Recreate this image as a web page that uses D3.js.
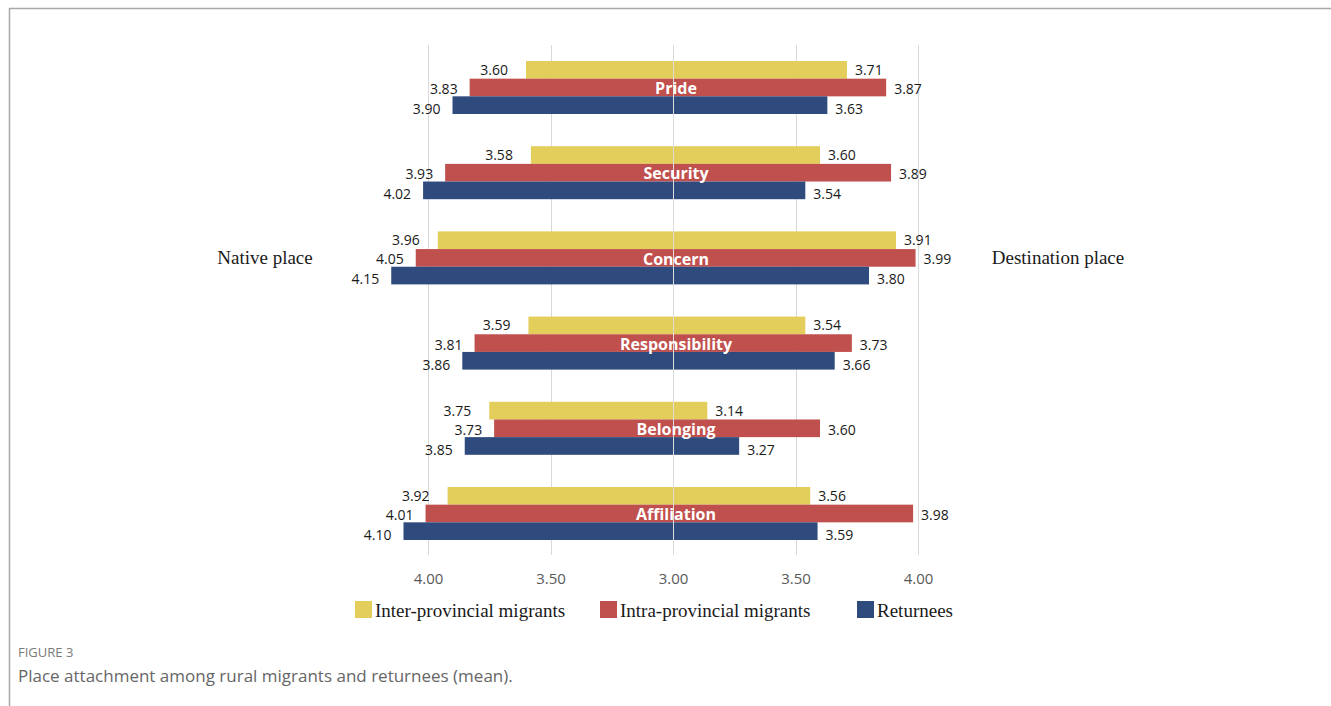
<!DOCTYPE html>
<html>
<head>
<meta charset="utf-8">
<script src="https://cdn.jsdelivr.net/npm/d3@7"></script>
<style>
  html, body { margin: 0; padding: 0; background: #fff; }
  svg { display: block; }
</style>
</head>
<body>
<svg id="chart" width="1331" height="706"></svg>
<script>
// ---- data ----
const categories = ["Pride", "Security", "Concern", "Responsibility", "Belonging", "Affiliation"];
const seriesNames = ["Inter-provincial migrants", "Intra-provincial migrants", "Returnees"];
const seriesColors = ["#E3CD5B", "#C0504D", "#2F4A7C"];
// Native place (left side)
const interNative = [3.60, 3.58, 3.96, 3.59, 3.75, 3.92];
const intraNative = [3.83, 3.93, 4.05, 3.81, 3.73, 4.01];
const retNative   = [3.90, 4.02, 4.15, 3.86, 3.85, 4.10];
// Destination place (right side)
const interDest = [3.71, 3.60, 3.91, 3.54, 3.14, 3.56];
const intraDest = [3.87, 3.89, 3.99, 3.73, 3.60, 3.98];
const retDest   = [3.63, 3.54, 3.80, 3.66, 3.27, 3.59];
const tickValues = [-1, -0.5, 0, 0.5, 1];
const baseline = 3;

const nativeSeries = [interNative, intraNative, retNative];
const destSeries = [interDest, intraDest, retDest];

const svg = d3.select("#chart");

// frame
svg.append("line").attr("x1", 9).attr("x2", 1331).attr("y1", 8.5).attr("y2", 8.5)
  .attr("stroke", "#a9a9a9").attr("stroke-width", 1.5);
svg.append("line").attr("x1", 9.5).attr("x2", 9.5).attr("y1", 8).attr("y2", 706)
  .attr("stroke", "#a9a9a9").attr("stroke-width", 1.5);

// scales
const x = d3.scaleLinear().domain([-1, 1]).range([428, 918]);
const yc = d3.scalePoint().domain(categories).range([87.5, 513.5]);
const ys = d3.scaleBand().domain(seriesNames).range([-26.5, 26.5]);

// gridlines
const gridTop = 45, gridBottom = 555;
svg.append("g").selectAll("line").data(tickValues).join("line")
  .attr("x1", d => Math.round(x(d)) + 0.5).attr("x2", d => Math.round(x(d)) + 0.5)
  .attr("y1", gridTop).attr("y2", gridBottom)
  .attr("stroke", "#d9d9d9").attr("stroke-width", 1);

// bars
const rows = [];
categories.forEach((c, i) => {
  seriesNames.forEach((s, j) => {
    rows.push({cat: c, s, j, side: "L", v: nativeSeries[j][i]});
    rows.push({cat: c, s, j, side: "R", v: destSeries[j][i]});
  });
});

const signed = d => d.side === "L" ? -(d.v - baseline) : (d.v - baseline);

svg.append("g").selectAll("rect").data(rows).join("rect")
  .attr("x", d => Math.min(x(0), x(signed(d))))
  .attr("width", d => Math.abs(x(signed(d)) - x(0)))
  .attr("y", d => yc(d.cat) + ys(d.s))
  .attr("height", ys.bandwidth())
  .attr("fill", d => seriesColors[d.j]);

// centre line on top
svg.append("line")
  .attr("x1", Math.round(x(0)) + 0.5).attr("x2", Math.round(x(0)) + 0.5)
  .attr("y1", gridTop).attr("y2", gridBottom)
  .attr("stroke", "#dcdcdc").attr("stroke-width", 1);

// value labels
const labelDy = [0, 1.5, 4];
const leftGap = [18, 12, 12];
svg.append("g").selectAll("text").data(rows).join("text")
  .attr("x", d => d.side === "L" ? x(signed(d)) - leftGap[d.j] : x(signed(d)) + 8)
  .attr("y", d => yc(d.cat) + ys(d.s) + ys.bandwidth() / 2 + labelDy[d.j])
  .attr("dy", "0.35em")
  .attr("text-anchor", d => d.side === "L" ? "end" : "start")
  .attr("font-family", "'Open Sans', sans-serif")
  .attr("font-size", 14)
  .attr("fill", "#1a1a1a")
  .text(d => d.v.toFixed(2));

// category labels
svg.append("g").selectAll("text").data(categories).join("text")
  .attr("x", x(0) + 3)
  .attr("y", d => yc(d) + 1)
  .attr("dy", "0.35em")
  .attr("text-anchor", "middle")
  .attr("font-family", "'Open Sans', sans-serif")
  .attr("font-weight", "bold")
  .attr("font-size", 16)
  .attr("fill", "#ffffff")
  .text(d => d);

// axis
const axis = d3.axisBottom(x).tickValues(tickValues).tickSize(0).tickPadding(0)
  .tickFormat(t => (baseline + Math.abs(t)).toFixed(2));
const ag = svg.append("g").attr("transform", "translate(0,579)").call(axis);
ag.select(".domain").remove();
ag.selectAll("text")
  .attr("dy", "0.35em").attr("y", 0)
  .attr("font-family", "'Open Sans', sans-serif")
  .attr("font-size", 15)
  .attr("fill", "#595959");

// side titles
svg.append("text").attr("x", 265).attr("y", 257).attr("dy", "0.35em")
  .attr("text-anchor", "middle").attr("font-family", "'Liberation Serif', serif")
  .attr("font-size", 19).attr("fill", "#1a1a1a").text("Native place");
svg.append("text").attr("x", 1058).attr("y", 257).attr("dy", "0.35em")
  .attr("text-anchor", "middle").attr("font-family", "'Liberation Serif', serif")
  .attr("font-size", 19).attr("fill", "#1a1a1a").text("Destination place");

// legend
const legendX = [355, 600, 857];
const lg = svg.append("g").selectAll("g").data(seriesNames).join("g")
  .attr("transform", (d, i) => `translate(${legendX[i]},601)`);
lg.append("rect").attr("width", 17).attr("height", 17).attr("fill", (d, i) => seriesColors[i]);
lg.append("text").attr("x", 20).attr("y", 9).attr("dy", "0.35em")
  .attr("font-family", "'Liberation Serif', serif").attr("font-size", 19)
  .attr("fill", "#1a1a1a").text(d => d);

// caption
svg.append("text").attr("x", 18).attr("y", 652).attr("dy", "0.35em")
  .attr("font-family", "'Open Sans', sans-serif").attr("font-size", 13)
  .attr("fill", "#7a7a7a").text("FIGURE 3");
svg.append("text").attr("x", 18).attr("y", 676).attr("dy", "0.35em")
  .attr("font-family", "'Open Sans', sans-serif").attr("font-size", 17)
  .attr("fill", "#666666").text("Place attachment among rural migrants and returnees (mean).");
</script>
</body>
</html>
